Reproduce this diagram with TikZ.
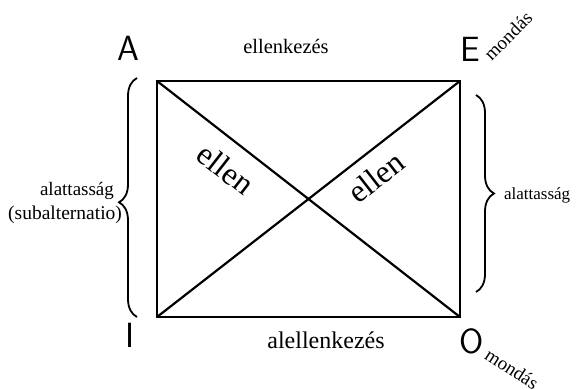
\documentclass[tikz,border=0pt]{standalone}
\usepackage{fontspec}
\setmainfont{Liberation Serif}
\usepackage{tikz}
\usetikzlibrary{decorations.pathreplacing}

\newcommand{\fsz}[1]{\fontsize{#1}{#1}\selectfont}

\begin{document}
\begin{tikzpicture}[x=1pt,y=-1pt,line width=2.2pt]

  % styles
  \tikzstyle{letter}=[font=\sffamily\fsz{35},inner sep=0pt]
  \tikzstyle{word}=[inner sep=0pt]
  \tikzstyle{curly}=[decorate,decoration={brace,amplitude=18pt,aspect=0.5},line width=1.8pt]

  \useasboundingbox (0,0) rectangle (582,389);

  % corners of the square
  \coordinate (a) at (157,81);
  \coordinate (e) at (460,81);
  \coordinate (i) at (157,317);
  \coordinate (o) at (460,317);

  \draw (a) -- (e) -- (o) -- (i) -- cycle;
  \draw (a) -- (o);
  \draw (i) -- (e);

  % letters at the corners
  \node[letter] (A) at (128,48) {A};
  \node[letter] (E) at (470,49) {E};
  \node[letter] (I) at (130,335) {I};
  \node[letter] (O) at (472,341) {O};

  \node[word,rotate=45,font=\fsz{19}] (mondE) at (508,36) {mondás};
  \node[word,rotate=-33,font=\fsz{19}] (mondO) at (512,369) {mondás};

  % relations
  \node[word,anchor=base,font=\fsz{20.5}] (top) at (286,53) {ellenkezés};
  \node[word,anchor=base,font=\fsz{24}] (bottom) at (326,348) {alellenkezés};
  \node[word,rotate=-38,font=\fsz{32}] (ellenA) at (226,169) {ellen};
  \node[word,rotate=38,font=\fsz{32}] (ellenI) at (376,177) {ellen};

  % braces
  \coordinate (lb1) at (137,317);
  \coordinate (lb2) at (137,78);
  \coordinate (rb1) at (476,95);
  \coordinate (rb2) at (476,292);
  \draw[curly,decoration={aspect=0.48}] (lb1) -- (lb2);
  \draw[curly] (rb1) -- (rb2);

  \node[word,anchor=base east,font=\fsz{19}] (left1) at (115,195) {alattasság};
  \node[word,anchor=base east,font=\fsz{19.5}] (left2) at (123,219) {(subalternatio)};
  \node[word,anchor=base west,font=\fsz{17}] (right) at (503,199) {alattasság};

\end{tikzpicture}
\end{document}
